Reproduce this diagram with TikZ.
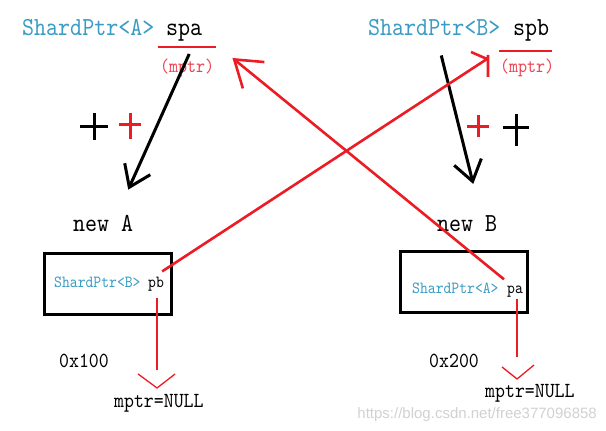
\documentclass[tikz,border=0pt]{standalone}
\usepackage{fontspec}
\usetikzlibrary{arrows.meta, positioning, calc}
\newfontfamily\codefont[FakeStretch=0.88]{lmmono10-regular.otf}
\newfontfamily\markfont{Liberation Sans}
\definecolor{ptrblue}{HTML}{3A9CC4}
\definecolor{linered}{HTML}{EC1C24}
\definecolor{mptrred}{HTML}{F0404E}

\begin{document}
\begin{tikzpicture}[
    x=1pt, y=-1pt,
    code/.style={inner sep=0pt, anchor=base west, font=\codefont\fontsize{26}{26}\selectfont},
    ptr/.style={code, text=ptrblue},
    boxtxt/.style={code, font=\codefont\fontsize{17}{17}\selectfont},
    addr/.style={code, font=\codefont\fontsize{21.5}{21.5}\selectfont},
    mptr/.style={code, text=mptrred, font=\codefont\fontsize{19.5}{19.5}\selectfont},
    obj/.style={draw, line width=3pt, minimum width=127, minimum height=61, inner sep=0pt},
    cross/.style={line width=3pt},
    blkarr/.style={line width=3pt, -{Straight Barb[length=20pt, width=28pt]}},
    redarr/.style={linered, line width=2.6pt},
    thinred/.style={linered, line width=1.3pt},
]
\useasboundingbox (0,0) rectangle (606,431);

% smart pointers on the stack
\node[ptr] (ptrA) at (22,35) {ShardPtr<A>};
\node[code] (spa) at (166,35) {spa};
\node[mptr] (mA) at (160,72) {(mptr)};
\node[ptr] (ptrB) at (368,35) {ShardPtr<B>};
\node[code] (spb) at (513,35) {spb};
\node[mptr] (mB) at (500,72) {(mptr)};
\draw[redarr] (158,47) -- (216,47);
\draw[redarr] (499,51) -- (552,51);

% reference counts
\foreach \cx/\cy/\hw/\vt/\vb/\cc in {94/126/14/113/140/black, 130/124/11/113/139/linered,
                                     478/126/11/115/137/linered, 516/127/13/114/146/black}
    \draw[cross, \cc] (\cx-\hw,\cy) -- (\cx+\hw,\cy) (\cx,\vt) -- (\cx,\vb);

% objects on the heap
\node[code] (newA) at (73,231) {new A};
\node[code] (newB) at (437,231) {new B};
\node[obj] (objA) at (108,284) {};
\node[obj] (objB) at (463.5,281.5) {};
\node[boxtxt, text=ptrblue] (inA) at (54,287) {ShardPtr<B>};
\node[boxtxt] (pb) at (148,287) {pb};
\node[boxtxt, text=ptrblue] (inB) at (412,293) {ShardPtr<A>};
\node[boxtxt] (pa) at (507,293) {pa};

\node[addr] (adA) at (59,367) {0x100};
\node[addr] (nullA) at (114,407) {mptr=NULL};
\node[addr] (adB) at (429,367) {0x200};
\node[addr] (nullB) at (485,397) {mptr=NULL};

% spa, spb point to new A, new B
\draw[blkarr] ($(spa.south)+(5,13)$) -- ($(newA.north)+(25,-25)$);
\draw[blkarr] ($(ptrB.south)+(7,20)$) -- ($(newB.north)+(6,-31)$);

% members point back across
\draw[redarr, -{Straight Barb[length=25pt, width=34pt]}] ($(pa.north west)+(-3,-6)$) -- ($(spa.south east)+(30,17)$);
\draw[redarr] ($(pb.north east)+(-2,-5)$) -- ($(spb.south west)+(-26,18)$) coordinate (tipB);
\draw[redarr] ($(tipB)+(-16,-7)$) -- (tipB) ($(tipB)+(1,-4)$) -- ++(0,22);

% members start as NULL
\draw[thinred] ($(pb.south)+(1,7)$) -- ++(0,72) coordinate (endA);
\draw[thinred] ($(endA)+(-19,4)$) -- ++(19,14) -- ++(18,-14);
\draw[thinred] ($(pa.south)+(2,2)$) -- ++(0,58) coordinate (endB);
\draw[thinred] ($(endB)+(-15,10)$) -- ++(15,12) -- ++(17,-14);

\node[inner sep=0pt, anchor=base east, text=black!18, font=\markfont\fontsize{15}{15}\selectfont] (mark) at (597,418) {https://blog.csdn.net/free377096858};
\end{tikzpicture}
\end{document}
